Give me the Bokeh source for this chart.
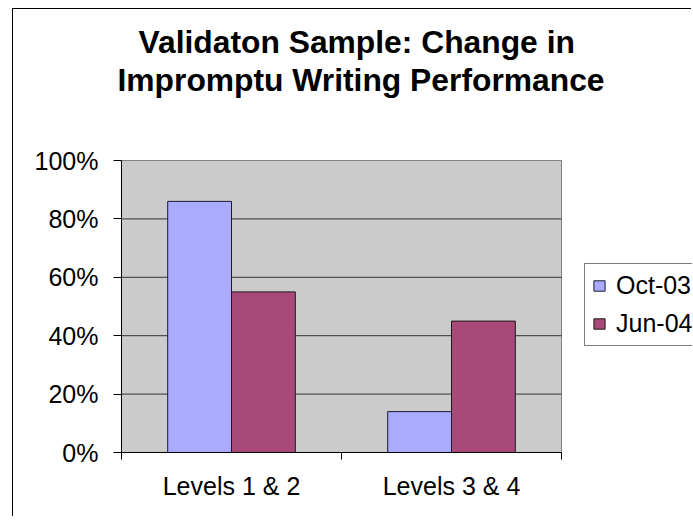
from bokeh.plotting import figure
from bokeh.models import (FixedTicker, NumeralTickFormatter, Range1d, Legend, LegendItem,
                          Title, ColumnDataSource)
from bokeh.embed import file_html
from bokeh.resources import INLINE

# ---- data ----
title_lines = ["Validaton Sample: Change in", "Impromptu Writing Performance"]
categories = ["Levels 1 & 2", "Levels 3 & 4"]
series_names = ["Oct-03", "Jun-04"]
oct03 = [0.86, 0.14]
jun04 = [0.55, 0.45]
y_ticks = [0, 0.2, 0.4, 0.6, 0.8, 1.0]

FONT = "Liberation Sans"
colors = ["#AAAAFF", "#A8497A"]
bar_w = 0.29
n = len(categories)

# layout (pixels)
plot_px = 440          # width of the grey plot area
frame_px = 571         # frame reaches to the right edge so the legend can sit there
plot_h_px = 292
extra_top_px = 10

p = figure(width=679, height=508, output_backend="svg", toolbar_location=None,
           x_range=Range1d(0, n * frame_px / plot_px),
           y_range=Range1d(0, 1 + extra_top_px / plot_h_px),
           min_border_left=108, min_border_right=0, min_border_top=141, min_border_bottom=65)
p.styles = {"margin-left": "12px", "margin-top": "8px",
            "border-left": "1px solid #000000", "border-top": "1px solid #000000"}

p.background_fill_color = "white"
p.border_fill_color = "white"
p.outline_line_color = None
p.title.visible = False

centers = [i + 0.5 for i in range(n)]

# grey plot area
p.quad(left=[0], right=[n], bottom=[y_ticks[0]], top=[y_ticks[-1]],
       fill_color="#CBCBCB", line_color="#808080", line_width=1)
# horizontal gridlines
inner = y_ticks[1:-1]
p.segment(x0=[0] * len(inner), x1=[n] * len(inner), y0=inner, y1=inner,
          line_color="#333333", line_width=1)

src = ColumnDataSource(dict(
    x_oct=[c - bar_w / 2 for c in centers],
    x_jun=[c + bar_w / 2 for c in centers],
    oct=oct03, jun=jun04))

r1 = p.vbar(x="x_oct", top="oct", width=bar_w, source=src, fill_color=colors[0],
            line_color="#1a1a33", line_width=1)
r2 = p.vbar(x="x_jun", top="jun", width=bar_w, source=src, fill_color=colors[1],
            line_color="#1a1a1a", line_width=1)

p.xgrid.grid_line_color = None
p.ygrid.grid_line_color = None

# y axis
ya = p.yaxis[0]
ya.ticker = FixedTicker(ticks=y_ticks)
ya.formatter = NumeralTickFormatter(format="0%")
ya.bounds = (y_ticks[0], y_ticks[-1])
ya.major_tick_out = 8
ya.major_tick_in = 0
ya.minor_tick_line_color = None
ya.axis_line_color = "#000000"
ya.major_tick_line_color = "#000000"
ya.major_label_text_font = FONT
ya.major_label_text_font_size = "25px"
ya.major_label_text_color = "#000000"
ya.major_label_standoff = 15

# x axis
xa = p.below[0]
xa.ticker = FixedTicker(ticks=centers, minor_ticks=list(range(n + 1)))
xa.major_label_overrides = {c: lab for c, lab in zip(centers, categories)}
xa.bounds = (0, n)
xa.major_tick_line_color = None
xa.major_tick_out = 7
xa.major_tick_in = 0
xa.minor_tick_line_color = "#000000"
xa.minor_tick_out = 7
xa.minor_tick_in = 0
xa.axis_line_color = "#000000"
xa.major_label_text_font = FONT
xa.major_label_text_font_size = "25px"
xa.major_label_text_color = "#000000"
xa.major_label_standoff = 12

# spacer between the title and the plot area (first 'above' item sits closest to the plot)
p.add_layout(Title(text=" ", text_font_size="1px", standoff=50, text_color="white"), "above")

# title lines (line 2 closer to plot, then line 1)
for txt, off in [(title_lines[1], -4), (title_lines[0], 17)]:
    p.add_layout(Title(text=txt, align="left", offset=off, vertical_align="bottom",
                       standoff=0, text_font=FONT, text_font_style="bold",
                       text_font_size="31.8px", text_color="#000000"), "above")

legend = Legend(items=[LegendItem(label=series_names[0], renderers=[r1]),
                       LegendItem(label=series_names[1], renderers=[r2])],
                location=(463, 106))
legend.border_line_color = "#000000"
legend.border_line_width = 1
legend.background_fill_color = "white"
legend.background_fill_alpha = 1
legend.label_text_font = FONT
legend.label_text_font_size = "25px"
legend.label_text_color = "#000000"
legend.glyph_width = 14
legend.glyph_height = 13
legend.label_standoff = 10
legend.padding = 7
legend.spacing = 9
legend.margin = 0
p.add_layout(legend, "center")

open("out.html", "w").write(file_html(p, INLINE))
